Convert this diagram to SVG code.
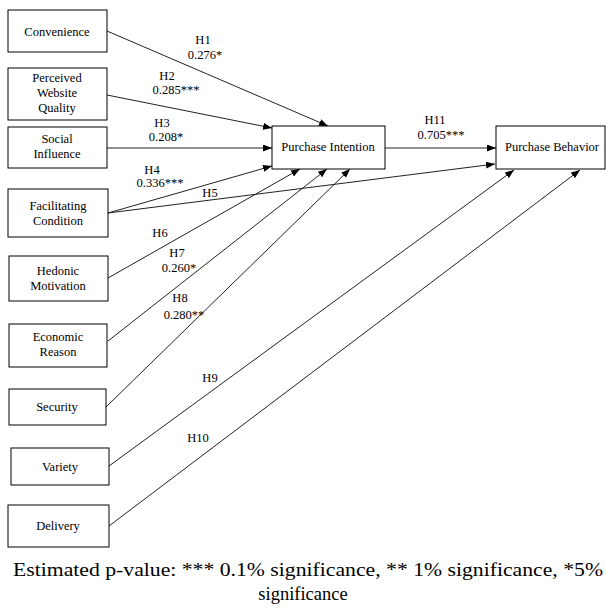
<svg xmlns="http://www.w3.org/2000/svg" width="606" height="610" viewBox="0 0 606 610">
<style>
.box{fill:#fff;stroke:#000;stroke-width:1}
.t{font-family:"Liberation Serif","Times New Roman",serif;font-size:12.5px;fill:#000;text-anchor:middle}
.c{stroke:#222;stroke-width:1;fill:none;marker-end:url(#ah)}
.foot{font-family:"Liberation Serif","Times New Roman",serif;font-size:18.5px;fill:#000;text-anchor:middle}
</style>
<defs>
<marker id="ah" markerUnits="userSpaceOnUse" markerWidth="9" markerHeight="8" refX="9" refY="3.5" orient="auto">
<path d="M0,0 L9,3.5 L0,7 z" fill="#000"/>
</marker>
</defs>
<rect width="606" height="610" fill="#fff"/>
<g id="connectors">
<line class="c" x1="107" y1="31" x2="328" y2="126"/>
<line class="c" x1="107" y1="95" x2="272" y2="128"/>
<line class="c" x1="107" y1="148" x2="272" y2="148"/>
<line class="c" x1="108" y1="213" x2="272" y2="166"/>
<line class="c" x1="108" y1="213" x2="495" y2="164"/>
<line class="c" x1="108" y1="278" x2="300" y2="169"/>
<line class="c" x1="108" y1="341" x2="327" y2="169"/>
<line class="c" x1="106" y1="407" x2="350" y2="169"/>
<line class="c" x1="109" y1="466" x2="514" y2="170"/>
<line class="c" x1="109" y1="526" x2="580" y2="170"/>
<line class="c" x1="385" y1="148" x2="496" y2="148"/>
</g>
<g id="labels">
<text class="t" x="203" y="44">H1</text>
<text class="t" x="205" y="59">0.276*</text>
<text class="t" x="167" y="80">H2</text>
<text class="t" x="176" y="94">0.285***</text>
<text class="t" x="162" y="127">H3</text>
<text class="t" x="166" y="141">0.208*</text>
<text class="t" x="152" y="174">H4</text>
<text class="t" x="160" y="187">0.336***</text>
<text class="t" x="210" y="197">H5</text>
<text class="t" x="160" y="237">H6</text>
<text class="t" x="177" y="257">H7</text>
<text class="t" x="179" y="272">0.260*</text>
<text class="t" x="180" y="302">H8</text>
<text class="t" x="184" y="319">0.280**</text>
<text class="t" x="210" y="382">H9</text>
<text class="t" x="198" y="442">H10</text>
<text class="t" x="435" y="124">H11</text>
<text class="t" x="441" y="139">0.705***</text>
</g>
<g id="convenience"><rect class="box" x="8" y="10" width="99" height="42"/><text class="t" x="57" y="36">Convenience</text></g>
<g id="pwq"><rect class="box" x="8" y="68" width="99" height="52"/><text class="t" x="57" y="82">Perceived</text><text class="t" x="57" y="97">Website</text><text class="t" x="57" y="112">Quality</text></g>
<g id="social"><rect class="box" x="8" y="127" width="99" height="41"/><text class="t" x="57" y="143">Social</text><text class="t" x="57" y="158">Influence</text></g>
<g id="facilitating"><rect class="box" x="8" y="189" width="100" height="48"/><text class="t" x="58" y="210">Facilitating</text><text class="t" x="58" y="225">Condition</text></g>
<g id="hedonic"><rect class="box" x="9" y="256" width="99" height="45"/><text class="t" x="58" y="275">Hedonic</text><text class="t" x="58" y="290">Motivation</text></g>
<g id="economic"><rect class="box" x="9" y="324" width="98" height="43"/><text class="t" x="58" y="341">Economic</text><text class="t" x="58" y="356">Reason</text></g>
<g id="security"><rect class="box" x="9" y="389" width="97" height="36"/><text class="t" x="57" y="411">Security</text></g>
<g id="variety"><rect class="box" x="11" y="448" width="98" height="37"/><text class="t" x="60" y="471">Variety</text></g>
<g id="delivery"><rect class="box" x="8" y="505" width="101" height="42"/><text class="t" x="58" y="530">Delivery</text></g>
<g id="intention"><rect class="box" x="272" y="126" width="113" height="43"/><text class="t" x="328" y="151">Purchase Intention</text></g>
<g id="behavior"><rect class="box" x="496" y="126" width="109" height="43"/><text class="t" x="552" y="151">Purchase Behavior</text></g>
<g id="footnote">
<text class="foot" x="308" y="576" textLength="590" lengthAdjust="spacingAndGlyphs">Estimated p-value: *** 0.1% significance, ** 1% significance, *5%</text>
<text class="foot" x="303" y="600">significance</text>
</g>
</svg>
